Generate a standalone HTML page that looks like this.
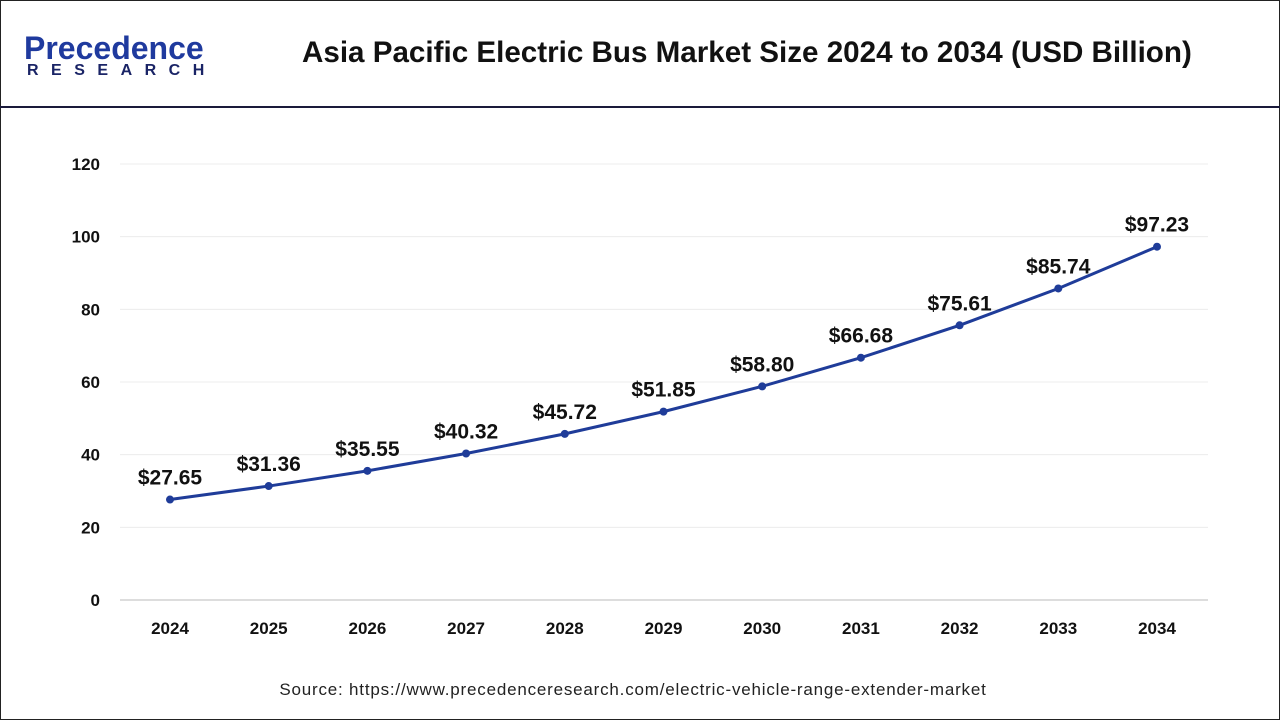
<!DOCTYPE html>
<html><head><meta charset="utf-8">
<style>
body{margin:0;width:1280px;height:720px;background:#fff;font-family:"Liberation Sans",Arial,sans-serif;overflow:hidden}
#frame{position:absolute;left:0;top:0;width:1278px;height:718px;border:1px solid #222}
#hdr-line{position:absolute;left:0;top:106px;width:1280px;height:2px;background:#1a1a3a}
#title{position:absolute;left:302px;top:36px;font-size:29.6px;font-weight:bold;color:#111;white-space:nowrap}
#logo1{position:absolute;left:24px;top:30px;font-size:32px;font-weight:bold;color:#1f3a9e}
#logo2{position:absolute;left:27px;top:62px;font-size:16px;font-weight:bold;color:#1a2466;letter-spacing:12.5px}
#src{position:absolute;left:0;width:1266px;top:680px;text-align:center;font-size:17px;letter-spacing:0.8px;color:#222}
svg{position:absolute;left:0;top:0}
</style></head><body>
<div id="frame"></div>
<div id="logo1">Precedence</div>
<div id="logo2">RESEARCH</div>
<div id="title">Asia Pacific Electric Bus Market Size 2024 to 2034 (USD Billion)</div>
<div id="hdr-line"></div>
<svg id="chart" width="1280" height="720"></svg>
<div id="src">Source: https://www.precedenceresearch.com/electric-vehicle-range-extender-market</div>
<script>
const categories=["2024","2025","2026","2027","2028","2029","2030","2031","2032","2033","2034"];
const values=[27.65,31.36,35.55,40.32,45.72,51.85,58.80,66.68,75.61,85.74,97.23];
const labels=["$27.65","$31.36","$35.55","$40.32","$45.72","$51.85","$58.80","$66.68","$75.61","$85.74","$97.23"];
const yTicks=[0,20,40,60,80,100,120];
const NS="http://www.w3.org/2000/svg";
const svg=document.getElementById('chart');
const x0=170,dx=98.7,yBase=600,yTop=164,yMax=120;
const xs=i=>x0+i*dx;
const ys=v=>yBase-(v/yMax)*(yBase-yTop);
function mk(t,a,p){const e=document.createElementNS(NS,t);for(const k in a)e.setAttribute(k,a[k]);(p||svg).appendChild(e);return e;}
yTicks.forEach(t=>{
  if(t>0){const g=mk('line',{x1:120,x2:1208,y1:ys(t),y2:ys(t),stroke:'#ececec','stroke-width':1});
  
  }
  const tx=mk('text',{x:100,y:ys(t)+6,'text-anchor':'end','font-size':17,'font-weight':'bold',fill:'#111','font-family':'Liberation Sans, sans-serif'});
  tx.textContent=t;
  
  
});
const ax=mk('line',{x1:120,x2:1208,y1:yBase,y2:yBase,stroke:'#bbb','stroke-width':1});


categories.forEach((c,i)=>{
  const tx=mk('text',{x:xs(i),y:634,'text-anchor':'middle','font-size':17,'font-weight':'bold',fill:'#111','font-family':'Liberation Sans, sans-serif'});
  tx.textContent=c;
  
  
});
const pl=mk('polyline',{points:values.map((v,i)=>xs(i)+','+ys(v)).join(' '),fill:'none',stroke:'#1f3c99','stroke-width':3});


values.forEach((v,i)=>{
  const c=mk('circle',{cx:xs(i),cy:ys(v),r:4,fill:'#1f3c99'});
  
  
  const t=mk('text',{x:xs(i),y:ys(v)-15,'text-anchor':'middle','font-size':21,'font-weight':'bold',fill:'#111','font-family':'Liberation Sans, sans-serif'});
  t.textContent=labels[i];
  
  
});
</script>
</body></html>
